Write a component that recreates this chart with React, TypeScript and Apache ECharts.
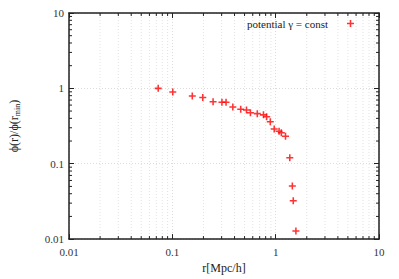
import React, { useEffect, useRef } from "react";
import * as echarts from "echarts";

const seriesName = "potential γ = const";
const rValues = [0.073, 0.101, 0.156, 0.197, 0.248, 0.302, 0.331, 0.385, 0.459, 0.522, 0.57, 0.664, 0.762, 0.818, 0.887, 0.968, 1.079, 1.134, 1.245, 1.37, 1.45, 1.48, 1.57];
const phiValues = [1.0, 0.895, 0.793, 0.757, 0.663, 0.656, 0.656, 0.565, 0.527, 0.516, 0.476, 0.462, 0.445, 0.419, 0.36, 0.289, 0.269, 0.257, 0.232, 0.12, 0.0507, 0.0323, 0.0128];
const xMinorTicks = [0.02, 0.03, 0.04, 0.05, 0.06, 0.07, 0.08, 0.09, 0.2, 0.3, 0.4, 0.5, 0.6, 0.7, 0.8, 0.9, 2, 3, 4, 5, 6, 7, 8, 9];
const yMinorTicks = [0.02, 0.03, 0.04, 0.05, 0.06, 0.07, 0.08, 0.09, 0.2, 0.3, 0.4, 0.5, 0.6, 0.7, 0.8, 0.9, 2, 3, 4, 5, 6, 7, 8, 9];
const xMin = 0.01, xMax = 10, yMin = 0.01, yMax = 10;

const FONT = "'Liberation Serif', 'Times New Roman', serif";
const plus = "path://M3.5,0H5.5V3.5H9V5.5H5.5V9H3.5V5.5H0V3.5H3.5Z";

export default function App() {
  const ref = useRef<HTMLDivElement>(null);
  useEffect(() => {
    if (!ref.current) return;
    const chart = echarts.init(ref.current, null, { renderer: "svg" });
    const axisCommon = {
      type: "log" as const,
      logBase: 10,
      axisLine: { show: true, lineStyle: { color: "#222", width: 1.5 } },
      axisTick: { show: true, inside: true, length: 5, lineStyle: { color: "#222", width: 1 } },
    };
    chart.setOption({
      animation: false,
      textStyle: { fontFamily: FONT },
      grid: { left: 61, right: 20, top: 13, bottom: 36, containLabel: false },
      legend: {
        show: true,
        data: [seriesName],
        right: 40,
        top: 13,
        align: "right",
        itemWidth: 7,
        itemHeight: 7,
        icon: plus,
        textStyle: { fontFamily: FONT, fontSize: 11, color: "#222", padding: [0, 14, 0, 0] },
      },
      xAxis: [
        {
          ...axisCommon,
          min: xMin,
          max: xMax,
          position: "bottom",
          name: "r[Mpc/h]",
          nameLocation: "middle",
          nameGap: 22,
          nameTextStyle: { fontFamily: FONT, fontSize: 12, color: "#222" },
          axisLabel: { fontFamily: FONT, fontSize: 11, color: "#333", margin: 7 },
          splitLine: { show: true, lineStyle: { color: "#dcdcdc", type: [1, 2], width: 1 } },
        },
        {
          ...axisCommon,
          min: xMin,
          max: xMax,
          position: "top",
          axisLabel: { show: false },
          splitLine: { show: false },
        },
      ],
      yAxis: [
        {
          ...axisCommon,
          min: yMin,
          max: yMax,
          position: "left",
          name: "{a|ϕ(r)/ϕ(r}{b|min}{a|)}",
          nameLocation: "middle",
          nameGap: 48,
          nameTextStyle: {
            fontFamily: FONT,
            color: "#222",
            rich: {
              a: { fontFamily: FONT, fontSize: 12, color: "#222", lineHeight: 14 },
              b: { fontFamily: FONT, fontSize: 8, color: "#222", lineHeight: 14, verticalAlign: "bottom" },
            },
          },
          axisLabel: { fontFamily: FONT, fontSize: 11, color: "#333", margin: 5 },
          splitLine: { show: true, lineStyle: { color: "#dcdcdc", type: [1, 2], width: 1 } },
        },
        {
          ...axisCommon,
          min: yMin,
          max: yMax,
          position: "right",
          axisLabel: { show: false },
          splitLine: { show: false },
        },
      ],
      series: [
        {
          type: "custom",
          silent: true,
          clip: false,
          z: 1,
          xAxisIndex: 0,
          yAxisIndex: 0,
          data: xMinorTicks.map((v) => [v, 1]),
          renderItem: (params: any, api: any) => {
            const v = api.value(0);
            const t = api.coord([v, yMax]);
            const b = api.coord([v, yMin]);
            return {
              type: "group",
              children: [
                { type: "line", shape: { x1: t[0], y1: t[1] + 1, x2: b[0], y2: b[1] - 1 }, style: { stroke: "#e2e2e2", lineWidth: 1, lineDash: [1, 2] } },
                { type: "line", shape: { x1: b[0], y1: b[1], x2: b[0], y2: b[1] - 3 }, style: { stroke: "#222", lineWidth: 1 } },
                { type: "line", shape: { x1: t[0], y1: t[1], x2: t[0], y2: t[1] + 3 }, style: { stroke: "#222", lineWidth: 1 } },
              ],
            };
          },
        },
        {
          type: "custom",
          silent: true,
          clip: false,
          z: 1,
          xAxisIndex: 0,
          yAxisIndex: 0,
          data: yMinorTicks.map((v) => [1, v]),
          renderItem: (params: any, api: any) => {
            const v = api.value(1);
            const l = api.coord([xMin, v]);
            const r = api.coord([xMax, v]);
            return {
              type: "group",
              children: [
                { type: "line", shape: { x1: l[0], y1: l[1], x2: l[0] + 3, y2: l[1] }, style: { stroke: "#222", lineWidth: 1 } },
                { type: "line", shape: { x1: r[0], y1: r[1], x2: r[0] - 3, y2: r[1] }, style: { stroke: "#222", lineWidth: 1 } },
              ],
            };
          },
        },
        {
          name: seriesName,
          type: "scatter",
          z: 3,
          symbol: plus,
          symbolSize: 7,
          itemStyle: { color: "#ff0000" },
          data: rValues.map((r, i) => [r, phiValues[i]]),
        },
      ],
    });
    return () => chart.dispose();
  }, []);
  return <div ref={ref} style={{ width: 399, height: 279, position: "absolute", left: 0, top: 0, background: "#fff" }} />;
}
